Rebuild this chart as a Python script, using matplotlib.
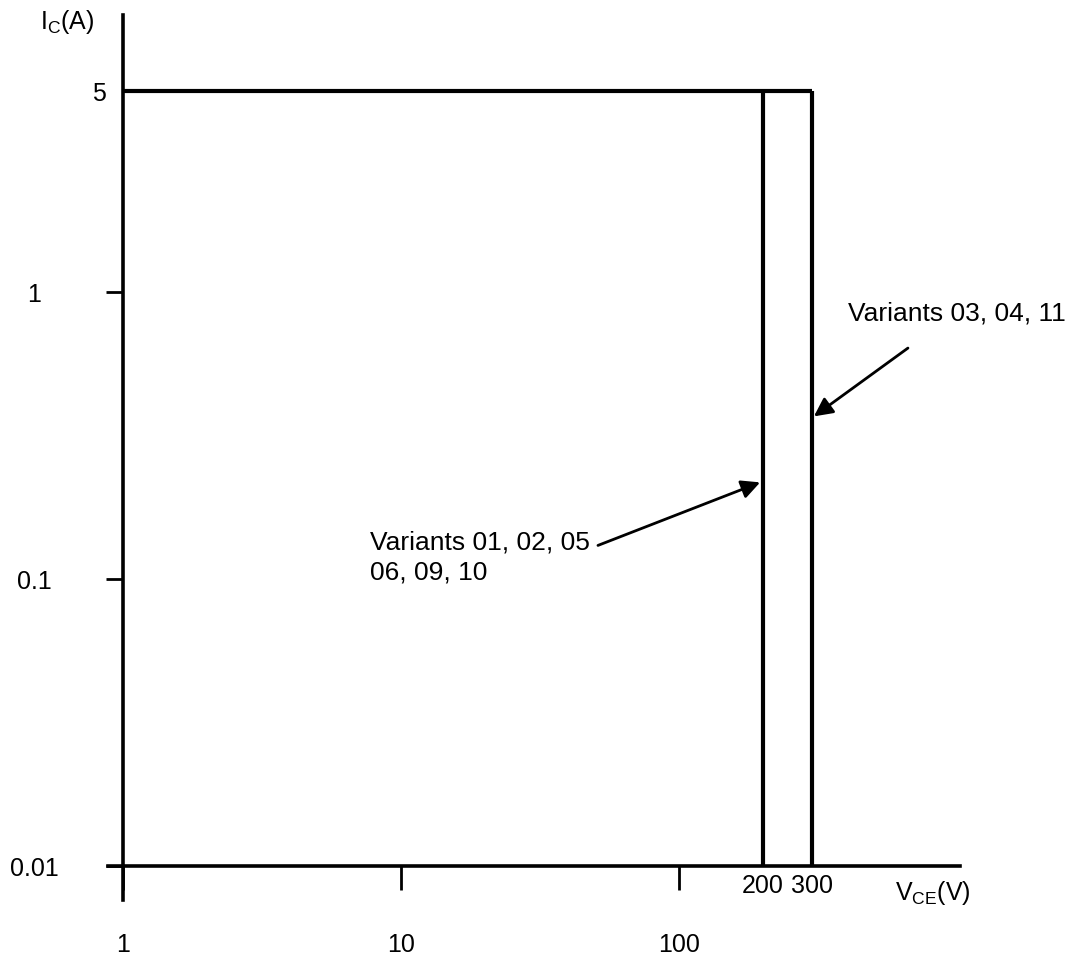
import matplotlib
matplotlib.use('Agg')
import matplotlib.pyplot as plt

plt.rcParams['font.family'] = ['Liberation Sans', 'DejaVu Sans']
plt.rcParams['mathtext.default'] = 'regular'

# safe operating area limits
vce_limits = [200, 300]      # V, rated VCE per variant group
ic_max = 5                   # A
vce_start = 1
ic_floor = 0.01

x_major = [1, 10, 100]
x_major_labels = ['1', '10', '100']
y_major = [0.01, 0.1, 1]
y_major_labels = ['0.01', '0.1', '1']

W, H = 1079, 957
fig = plt.figure(figsize=(W / 100, H / 100), dpi=100)
ax = fig.add_axes([108 / W, (H - 900) / H, (960 - 108) / W, (900 - 15) / H])
ax.set_xscale('log')
ax.set_yscale('log')
ax.set_xlim(0.883, 1025)
ax.set_ylim(0.00762, 9.23)

for s in ['top', 'right']:
    ax.spines[s].set_visible(False)
ax.spines['left'].set_position(('data', vce_start))
ax.spines['bottom'].set_position(('data', ic_floor))
ax.spines['left'].set_linewidth(2.6)
ax.spines['bottom'].set_linewidth(2.6)

# boundary lines
ax.plot([vce_start, max(vce_limits)], [ic_max, ic_max], color='black', lw=3,
        solid_capstyle='butt')
ax.vlines(vce_limits, ic_floor, ic_max, color='black', lw=3)

# x ticks
ax.set_xticks(x_major)
ax.set_xticklabels(x_major_labels)
ax.set_xticks(vce_limits, minor=True)
ax.set_xticklabels([str(v) for v in vce_limits], minor=True)
ax.tick_params(axis='x', which='major', direction='out', length=17, width=2,
               pad=31, labelsize=18)
ax.tick_params(axis='x', which='minor', length=0, pad=6, labelsize=18)

# y ticks
ax.set_yticks(y_major)
ax.set_yticklabels(y_major_labels)
ax.set_yticks([ic_max], minor=True)
ax.set_yticklabels([str(ic_max)], minor=True)
ax.tick_params(axis='y', which='major', direction='out', length=12, width=2,
               pad=52, labelsize=18)
ax.tick_params(axis='y', which='minor', length=0, pad=12, labelsize=18)
for lab in ax.get_yticklabels():
    lab.set_horizontalalignment('center')

fig.text(40 / W, 1 - 22 / H, 'I$_C$(A)', fontsize=18, va='center', ha='left')
fig.text(895 / W, 1 - 893 / H, 'V$_{CE}$(V)', fontsize=18, va='center', ha='left')

# annotations
ax.text(405, 0.845, 'Variants 03, 04, 11', fontsize=19, va='center', ha='left')
ax.annotate('', xy=(vce_limits[1], 0.364), xytext=(666, 0.638),
            arrowprops=dict(arrowstyle='-|>', color='black', lw=2,
                            mutation_scale=28, shrinkA=0, shrinkB=2))
ax.text(7.74, 0.119, 'Variants 01, 02, 05\n06, 09, 10', fontsize=19,
        va='center', ha='left', linespacing=1.3)
ax.annotate('', xy=(vce_limits[0], 0.219), xytext=(51.1, 0.131),
            arrowprops=dict(arrowstyle='-|>', color='black', lw=2,
                            mutation_scale=28, shrinkA=0, shrinkB=2))

fig.savefig('out.png', dpi=100)
